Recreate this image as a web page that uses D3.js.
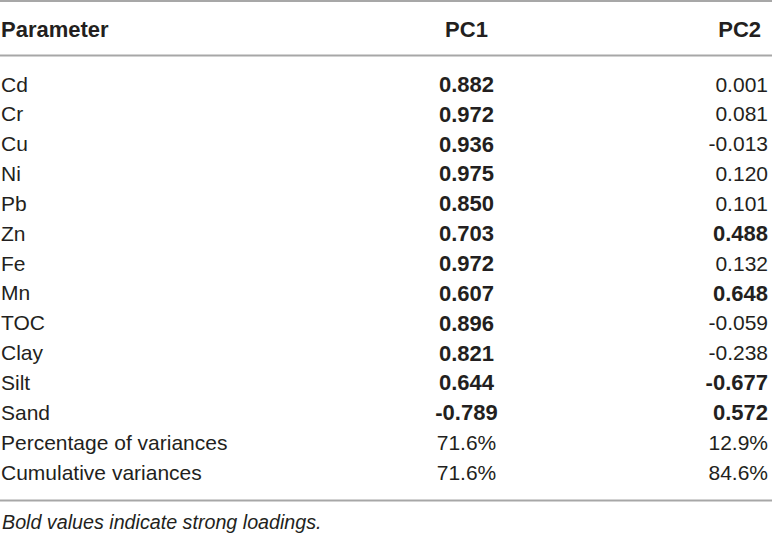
<!DOCTYPE html>
<html>
<head>
<meta charset="utf-8">
<script src="https://cdn.jsdelivr.net/npm/d3@7"></script>
<style>
  body { margin: 0; background: #fff; }
  svg text { font-family: "Liberation Sans", Arial, Helvetica, sans-serif; fill: #231f20; }
</style>
</head>
<body>
<svg id="table" width="772" height="534"></svg>
<script>
const headers = ["Parameter", "PC1", "PC2"];
const parameters = ["Cd", "Cr", "Cu", "Ni", "Pb", "Zn", "Fe", "Mn", "TOC", "Clay", "Silt", "Sand"];
const pc1 = [0.882, 0.972, 0.936, 0.975, 0.850, 0.703, 0.972, 0.607, 0.896, 0.821, 0.644, -0.789];
const pc2 = [0.001, 0.081, -0.013, 0.120, 0.101, 0.488, 0.132, 0.648, -0.059, -0.238, -0.677, 0.572];
const varianceLabels = ["Percentage of variances", "Cumulative variances"];
const variancePC1 = [71.6, 71.6];
const variancePC2 = [12.9, 84.6];
const strongLoading = 0.4;
const footnote = "Bold values indicate strong loadings.";

const svg = d3.select("#table");
const width = 772;
const fontSize = 21;
const boldSize = 22;

const rows = parameters.map((p, i) => ({ label: p, a: pc1[i], b: pc2[i], pct: false }))
  .concat(varianceLabels.map((p, i) => ({ label: p, a: variancePC1[i], b: variancePC2[i], pct: true })));

const yScale = d3.scalePoint()
  .domain(rows.map(d => d.label))
  .range([84, 472]);

const fmt = d3.format(".3f");
const fmtPct = v => d3.format(".1f")(v) + "%";
const cell = (v, pct) => pct ? fmtPct(v) : fmt(v).replace("−", "-");
const isBold = (v, pct) => !pct && Math.abs(v) > strongLoading;

// column anchors
const colX = { label: 1, pc1: 466.5, pc2: 768 };

// rules
const rules = [1, 55.5, 500.5];
svg.selectAll("line.rule")
  .data(rules)
  .enter().append("line")
    .attr("class", "rule")
    .attr("x1", 0).attr("x2", width)
    .attr("y1", d => d).attr("y2", d => d)
    .attr("stroke", "#a7a7a7")
    .attr("stroke-width", 2);

// header
const head = svg.append("g").attr("font-weight", "bold").attr("font-size", boldSize);
head.append("text").attr("x", colX.label).attr("y", 29).attr("dy", "0.36em").text(headers[0]);
head.append("text").attr("x", colX.pc1).attr("y", 29).attr("dy", "0.36em")
  .attr("text-anchor", "middle").text(headers[1]);
head.append("text").attr("x", 761).attr("y", 29).attr("dy", "0.36em")
  .attr("text-anchor", "end").text(headers[2]);

// body
const rowG = svg.selectAll("g.row")
  .data(rows)
  .enter().append("g")
    .attr("class", "row")
    .attr("transform", d => `translate(0,${yScale(d.label)})`)
    .attr("font-size", fontSize);

rowG.append("text")
  .attr("x", colX.label)
  .attr("dy", "0.36em")
  .text(d => d.label);

rowG.append("text")
  .attr("x", colX.pc1)
  .attr("dy", "0.36em")
  .attr("text-anchor", "middle")
  .attr("font-weight", d => isBold(d.a, d.pct) ? "bold" : "normal")
  .attr("font-size", d => isBold(d.a, d.pct) ? boldSize : fontSize)
  .text(d => cell(d.a, d.pct));

rowG.append("text")
  .attr("x", colX.pc2)
  .attr("dy", "0.36em")
  .attr("text-anchor", "end")
  .attr("font-weight", d => isBold(d.b, d.pct) ? "bold" : "normal")
  .attr("font-size", d => isBold(d.b, d.pct) ? boldSize : fontSize)
  .text(d => cell(d.b, d.pct));

// footnote
svg.append("text")
  .attr("x", 2)
  .attr("y", 529)
  .attr("font-size", 19.7)
  .attr("font-style", "italic")
  .text(footnote);
</script>
</body>
</html>
